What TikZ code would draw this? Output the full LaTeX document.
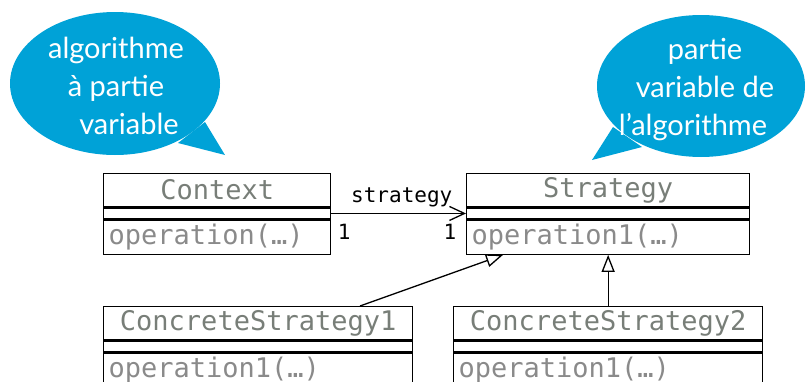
\documentclass[tikz,border=0pt]{standalone}
\usepackage{fontspec}
\setmainfont{Lato}
\setmonofont{DejaVu Sans Mono}
\usepackage{tikz}
\usetikzlibrary{shapes,arrows.meta,calc,positioning}

\definecolor{bubbleblue}{RGB}{0,162,215}
\definecolor{titlegray}{RGB}{120,126,120}
\definecolor{opgray}{RGB}{138,138,138}

\tikzset{
    classtitle/.style={draw, line width=1.3pt, inner sep=0pt, minimum height=33pt,
        font=\ttfamily\fontsize{27}{30}\selectfont, text=titlegray},
    classattr/.style={draw, line width=1.3pt, inner sep=0pt, minimum height=11pt},
    classops/.style={draw, line width=1.3pt, inner xsep=5pt, inner ysep=0pt, minimum height=34pt,
        align=left, font=\ttfamily\fontsize{27}{30}\selectfont, text=opgray},
    assoc/.style={line width=1.3pt, -{Straight Barb[length=15pt, width=14pt, line width=1.3pt]}},
    inherit/.style={line width=1.3pt, -{Triangle[open, length=17pt, width=13pt, line width=1.3pt, fill=white]}},
    umllabel/.style={inner sep=0pt, font=\ttfamily\fontsize{21}{24}\selectfont},
    bubbletext/.style={text=white, align=center, font=\fontsize{29}{38}\selectfont}
}

\begin{document}
\begin{tikzpicture}[x=1pt, y=-1pt]

        \useasboundingbox (0,0) rectangle (807,381);
        \clip (0,0) rectangle (807,381);

         % speech bubbles
         \fill[bubbleblue] (115,83.5) ellipse [x radius=105, y radius=71.5];
         \fill[bubbleblue] (205,122) -- (225,155) -- (178,143) -- cycle;
         \node[bubbletext] (algo) at (116,86) {algorithme\\à partie\\\hspace*{26pt}variable};

         \fill[bubbleblue] (701,86) ellipse [x radius=104, y radius=71];
         \fill[bubbleblue] (613,127) -- (592,160) -- (642,147) -- cycle;
         \node[bubbletext] (partie) at (705,90) {partie\\variable de\\l’algorithme\hspace*{24pt}};

         % classes
         \node[classtitle, anchor=north west, minimum width=227pt] (ctx) at (103,173) {Context};
         \node[classattr, minimum width=227pt, below=0pt of ctx] (ctxA) {};
         \node[classops, text width=217pt, below=0pt of ctxA] (ctxO) {operation(…)};

         \node[classtitle, anchor=north west, minimum width=283pt] (str) at (466,173) {Strategy};
         \node[classattr, minimum width=283pt, below=0pt of str] (strA) {};
         \node[classops, text width=273pt, below=0pt of strA] (strO) {operation1(…)};

         \node[classtitle, anchor=north west, minimum width=309pt] (cs1) at (103,306) {ConcreteStrategy1};
         \node[classattr, minimum width=309pt, below=0pt of cs1] (cs1A) {};
         \node[classops, text width=299pt, below=0pt of cs1A] (cs1O) {operation1(…)};

         \node[classtitle, anchor=north west, minimum width=309pt] (cs2) at (453,306) {ConcreteStrategy2};
         \node[classattr, minimum width=309pt, below=0pt of cs2] (cs2A) {};
         \node[classops, text width=299pt, below=0pt of cs2A] (cs2O) {operation1(…)};

         % association and inheritance
         \draw[assoc] (ctxA.east) -- (strA.west)
            node[umllabel, pos=1, anchor=south east, xshift=-13pt, yshift=6pt] {strategy}
            node[umllabel, pos=0, anchor=north west, xshift=6pt, yshift=-10pt] {1}
            node[umllabel, pos=1, anchor=north east, xshift=-9pt, yshift=-10pt] {1};
         \draw[inherit] ($(cs1.north west)+(257,0)$) -- ($(strO.south west)+(37,0)$);
         \draw[inherit] (cs2.north) -- (cs2.north |- strO.south);

    \end{tikzpicture}
\end{document}
